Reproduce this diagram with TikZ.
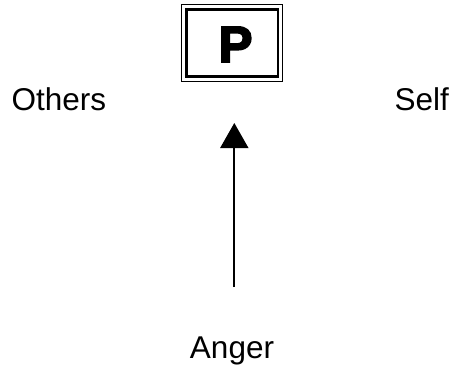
\documentclass[tikz,border=0pt]{standalone}
\usepackage{fontspec}
\setmainfont{Liberation Sans}
\newfontfamily\pfont[FakeBold=3.5]{Liberation Sans Bold}
\usetikzlibrary{arrows.meta}
\begin{document}
\begin{tikzpicture}[x=1pt,y=1pt,
  lbl/.style={inner sep=0pt,font=\fontsize{31.5}{34}\selectfont},
  pbox/.style={draw,line width=2.6pt,minimum width=91.5pt,minimum height=67pt,inner sep=0pt},
  pletter/.style={inner sep=0pt,font=\fontsize{51}{53}\pfont},
  arr/.style={line width=1.7pt,-{Triangle[width=28pt,length=25pt]}}]
\useasboundingbox (0,0) rectangle (454,-366);
\node[pbox] (P) at (232.25,-43) {};
\node[pletter] (pl) at (235.5,-44.5) {P};
\draw[line width=1.1pt] ([shift={(-3.9pt,3.9pt)}]P.north west) rectangle ([shift={(3.6pt,-3.6pt)}]P.south east);
\node[lbl,anchor=base west] (others) at (11.5,-111) {Others};
\node[lbl,anchor=base west] (self) at (394.5,-111) {Self};
\node[lbl,anchor=base] (anger) at (232,-358.5) {Anger};
\coordinate (tail) at (234.3,-287);
\coordinate (tip) at (234.3,-123);
\draw[arr] (tail) -- (tip);
\end{tikzpicture}
\end{document}
